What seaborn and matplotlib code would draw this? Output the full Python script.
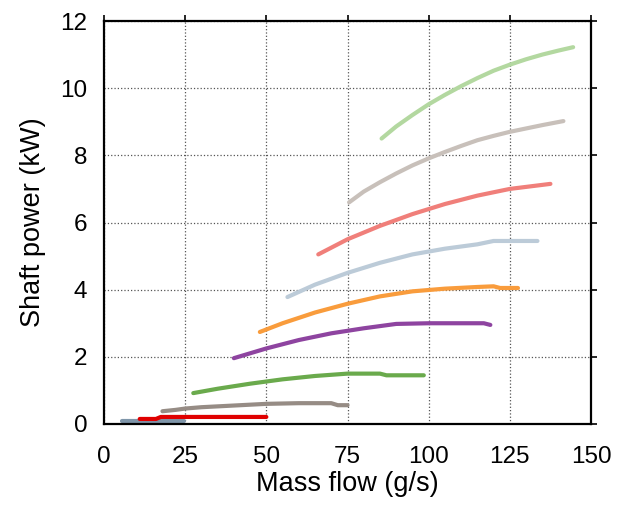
import numpy as np
import pandas as pd
import matplotlib
matplotlib.use("Agg")
import matplotlib.pyplot as plt
import seaborn as sns

# --- data (mass flow g/s, shaft power kW) ---
x1 = [5.5, 24.5]
y1 = [0.08, 0.08]
x2 = [11, 16, 17.5, 50]
y2 = [0.15, 0.15, 0.21, 0.21]
x3 = [18, 22, 25, 30, 40, 50, 60, 70, 72, 75]
y3 = [0.38, 0.42, 0.46, 0.5, 0.55, 0.6, 0.62, 0.62, 0.56, 0.56]
x4 = [27.5, 35, 45, 55, 65, 75, 85, 87, 98.5]
y4 = [0.92, 1.05, 1.2, 1.33, 1.43, 1.5, 1.5, 1.45, 1.45]
x5 = [40, 50, 60, 70, 80, 90, 100, 117, 119]
y5 = [1.96, 2.25, 2.5, 2.7, 2.85, 2.98, 3.0, 3.0, 2.95]
x6 = [48, 55, 65, 75, 85, 95, 105, 115, 120, 122, 127.5]
y6 = [2.74, 3.0, 3.32, 3.58, 3.8, 3.95, 4.03, 4.08, 4.1, 4.05, 4.05]
x7 = [56.5, 65, 75, 85, 95, 105, 115, 120, 133.5]
y7 = [3.78, 4.15, 4.5, 4.8, 5.05, 5.22, 5.35, 5.45, 5.45]
x8 = [66, 75, 85, 95, 105, 115, 125, 137.5]
y8 = [5.05, 5.5, 5.9, 6.25, 6.55, 6.8, 7.0, 7.15]
x9 = [75.5, 80, 85, 90, 95, 100, 105, 110, 115, 120, 125, 130, 135, 141.5]
y9 = [6.6, 6.92, 7.2, 7.46, 7.7, 7.91, 8.1, 8.28, 8.45, 8.58, 8.7, 8.8, 8.9, 9.02]
x10 = [85.5, 90, 95, 100, 105, 110, 115, 120, 125, 130, 135, 140, 144.5]
y10 = [8.5, 8.86, 9.2, 9.52, 9.8, 10.06, 10.3, 10.52, 10.7, 10.86, 11.0, 11.12, 11.22]

colors = ['#7f96aa', '#e00000', '#968c85', '#6aaa4c', '#8e44a0',
          '#f99c3c', '#bccbd8', '#f07f7a', '#c8c0ba', '#b3d8a0']
xs = [x1, x2, x3, x4, x5, x6, x7, x8, x9, x10]
ys = [y1, y2, y3, y4, y5, y6, y7, y8, y9, y10]

frames = []
for i, (xx, yy) in enumerate(zip(xs, ys)):
    frames.append(pd.DataFrame({'flow': xx, 'power': yy, 'run': i}))
df = pd.concat(frames, ignore_index=True)

sns.set_style("white")
plt.rcParams['font.family'] = ['Liberation Sans', 'DejaVu Sans']
plt.rcParams['text.color'] = 'black'
plt.rcParams['axes.labelcolor'] = 'black'

fig = plt.figure(figsize=(6.27, 5.05), dpi=100)
ax = fig.add_axes([104 / 627, 81 / 505, 487 / 627, 403 / 505])

sns.lineplot(data=df, x='flow', y='power', hue='run', palette=colors,
             linewidth=3, legend=False, ax=ax, estimator=None, sort=False)

ax.set_xlim(0, 150)
ax.set_ylim(0, 12)
ax.set_xticks([0, 25, 50, 75, 100, 125, 150])
ax.set_yticks([0, 2, 4, 6, 8, 10, 12])
ax.grid(True, color='#555555', linestyle=':', linewidth=0.9)
ax.set_axisbelow(True)
for s in ax.spines.values():
    s.set_color('black')
    s.set_linewidth(1.6)
ax.tick_params(direction='out', length=4, width=1.2, labelsize=17.5,
               top=True, right=True, colors='black', labelcolor='black')
ax.tick_params(axis='x', pad=12)
ax.tick_params(axis='y', pad=8)
ax.set_xlabel('Mass flow (g/s)', fontsize=19.5, labelpad=2, color='black')
ax.set_ylabel('Shaft power (kW)', fontsize=19.5, labelpad=10, color='black')

fig.savefig('out.png', dpi=100)
